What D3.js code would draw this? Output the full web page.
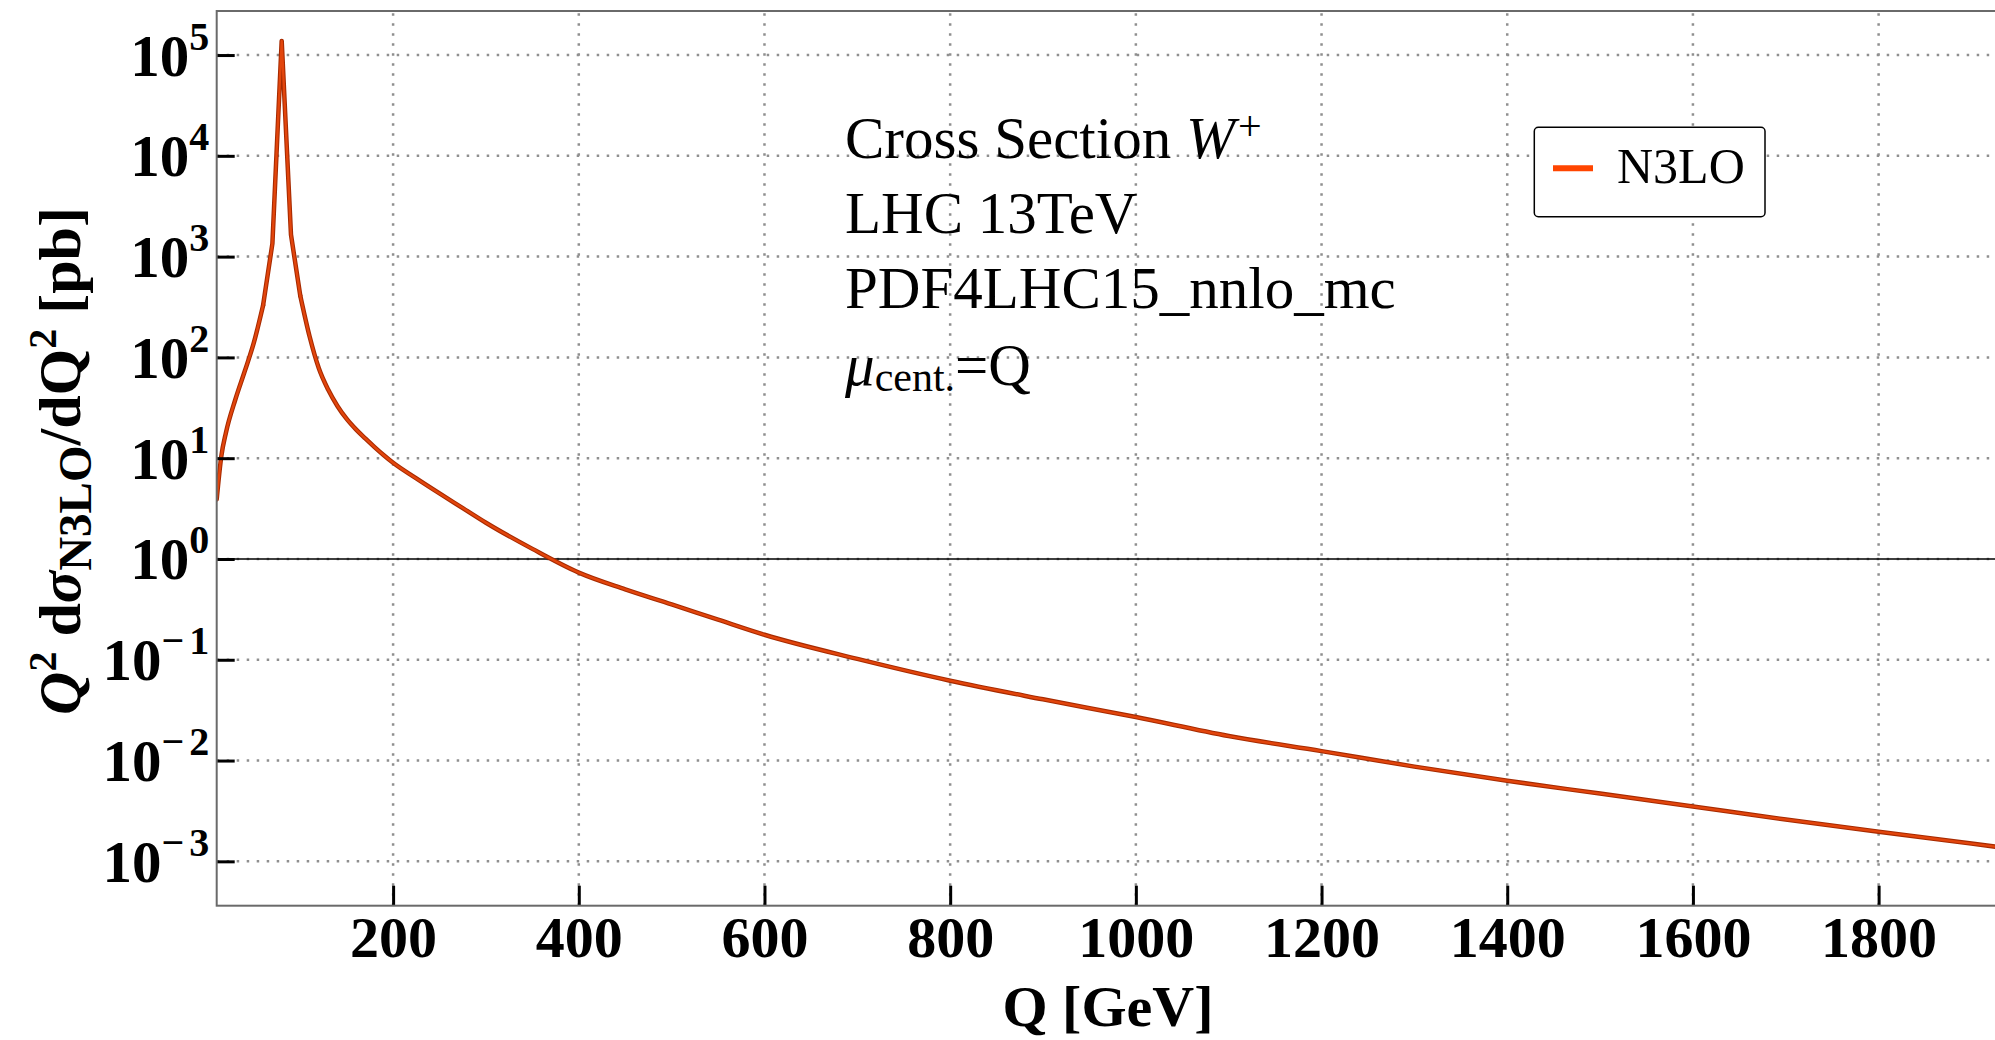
<!DOCTYPE html>
<html>
<head>
<meta charset="utf-8">
<script src="https://cdn.jsdelivr.net/npm/d3@7"></script>
<style>
  body { margin: 0; background: #fff; }
  svg { display: block; }
</style>
</head>
<body>
<div id="chart"></div>
<script>
// data: Q in GeV, Q^2 dsigma/dQ^2 in pb (N3LO, W+)
var qGeV = [10, 15, 20, 30, 40, 50, 60, 70, 80, 90,
  100, 110, 120, 130, 140, 150, 160, 170, 180, 190, 200,
  225, 250, 275, 300, 350, 400, 450, 500, 550, 600,
  700, 800, 900, 1000, 1100, 1200, 1300, 1400, 1500, 1600, 1700, 1800, 1900, 2000];
var n3loValues = [3.9, 10.5, 18, 38, 72, 140, 330, 1350, 138000, 1650,
  410, 162, 78, 48, 33, 24.5, 19.3, 15.7, 12.9, 10.7, 9.0,
  6.3, 4.47, 3.2, 2.29, 1.26, 0.733, 0.50, 0.355, 0.25, 0.177,
  0.102, 0.062, 0.0405, 0.027, 0.0175, 0.0124, 0.0087, 0.0063, 0.0047, 0.0035, 0.0026, 0.00197, 0.0015, 0.00114];

// tick values
var xTicks = [200, 400, 600, 800, 1000, 1200, 1400, 1600, 1800];
var yTickExps = [-3, -2, -1, 0, 1, 2, 3, 4, 5];

// axis ranges
var xDomain = [10, 2000];
var yDomain = [3.63e-4, 2.735e5];

// the peak is sampled coarsely and drawn with straight segments
var peakRange = [60, 100];

// texts
var legendLabel = "N3LO";
var infoTitle = "Cross Section ";
var infoBoson = "W";
var infoCharge = "+";
var infoCollider = "LHC 13TeV";
var infoPdf = "PDF4LHC15_nnlo_mc";
var infoScale = "=Q";
var xTitle = "Q [GeV]";

var serif = "'Liberation Serif', 'Times New Roman', serif";
var curveColor = "#e2450c";

var svgWidth = 1995;
var svgHeight = 1040;

// plot frame (right side runs past the picture edge)
var plot = {left: 216.7, top: 11, bottom: 905.7, right: 2064.3};

var svg = d3.select("#chart")
  .append("svg")
  .attr("width", svgWidth)
  .attr("height", svgHeight);

var xScale = d3.scaleLinear().domain(xDomain).range([plot.left, plot.right]);
var yScale = d3.scaleLog().domain(yDomain).range([plot.bottom, plot.top]);

var yTickVals = yTickExps.map(e => Math.pow(10, e));

svg.append("clipPath").attr("id", "plotclip")
  .append("rect")
  .attr("x", plot.left)
  .attr("y", plot.top)
  .attr("width", plot.right - plot.left)
  .attr("height", plot.bottom - plot.top);

// dotted grid
var grid = svg.append("g")
  .attr("stroke", "#8f8f8f")
  .attr("stroke-width", 2.5)
  .attr("stroke-dasharray", "2.5,7.5");

grid.selectAll("line.v")
  .data(xTicks)
  .enter()
  .append("line")
  .attr("class", "v")
  .attr("x1", d => xScale(d))
  .attr("x2", d => xScale(d))
  .attr("y1", plot.bottom)
  .attr("y2", plot.top);

grid.selectAll("line.h")
  .data(yTickVals)
  .enter()
  .append("line")
  .attr("class", "h")
  .attr("x1", plot.left)
  .attr("x2", plot.right)
  .attr("y1", d => yScale(d))
  .attr("y2", d => yScale(d));

// axis line at y = 1
svg.append("line")
  .attr("x1", plot.left)
  .attr("x2", plot.right)
  .attr("y1", yScale(1))
  .attr("y2", yScale(1))
  .attr("stroke", "#000")
  .attr("stroke-width", 1.3);

// the curve: smooth below and above the peak, straight segments across it
var points = qGeV.map((q, i) => ({q: q, v: n3loValues[i]}));
var segments = [
  {pts: points.filter(d => d.q <= peakRange[0]), curve: d3.curveMonotoneX},
  {pts: points.filter(d => d.q >= peakRange[0] && d.q <= peakRange[1]), curve: d3.curveLinear},
  {pts: points.filter(d => d.q >= peakRange[1]), curve: d3.curveMonotoneX}
];

var curveGroup = svg.append("g").attr("clip-path", "url(#plotclip)");
[["#a62a00", 4.5], [curveColor, 2.4]].forEach(function(style) {
  segments.forEach(function(seg) {
    var line = d3.line()
      .curve(seg.curve)
      .x(d => xScale(d.q))
      .y(d => yScale(d.v));
    curveGroup.append("path")
      .datum(seg.pts)
      .attr("d", line)
      .attr("fill", "none")
      .attr("stroke", style[0])
      .attr("stroke-width", style[1])
      .attr("stroke-linejoin", "round")
      .attr("stroke-linecap", "round");
  });
});

// x axis, ticks pointing into the frame
var xAxis = svg.append("g")
  .attr("transform", `translate(0, ${plot.bottom})`)
  .call(d3.axisBottom(xScale).tickValues(xTicks).tickSize(-20).tickPadding(10.5).tickFormat(d3.format("d")));
xAxis.select(".domain").remove();
xAxis.selectAll(".tick line").attr("stroke", "#000").attr("stroke-width", 3);
xAxis.selectAll(".tick text")
  .attr("font-family", serif)
  .attr("font-size", 58)
  .attr("font-weight", "bold")
  .attr("fill", "#000");

// y axis with 10^n labels
var yAxis = svg.append("g")
  .attr("transform", `translate(${plot.left}, 0)`)
  .call(d3.axisLeft(yScale).tickValues(yTickVals).tickSize(-18).tickFormat(""));
yAxis.select(".domain").remove();
yAxis.selectAll(".tick line").attr("stroke", "#000").attr("stroke-width", 3);
yAxis.selectAll(".tick text").remove();
yAxis.selectAll(".tick")
  .append("text")
  .attr("x", -7.5)
  .attr("y", 20)
  .attr("text-anchor", "end")
  .attr("font-family", serif)
  .attr("font-size", 59)
  .attr("font-weight", "bold")
  .attr("fill", "#000")
  .each(function(d) {
    var e = Math.round(Math.log10(d));
    var t = d3.select(this);
    t.append("tspan").text("10");
    if (e < 0) {
      t.append("tspan").attr("dy", -26).attr("font-size", 40).text("\u2212");
      t.append("tspan").attr("dx", 5).attr("font-size", 40).text(String(-e));
    } else {
      t.append("tspan").attr("dy", -26).attr("font-size", 40).text(String(e));
    }
  });

// frame
svg.append("rect")
  .attr("x", plot.left)
  .attr("y", plot.top)
  .attr("width", plot.right - plot.left)
  .attr("height", plot.bottom - plot.top)
  .attr("fill", "none")
  .attr("stroke", "#6a6a6a")
  .attr("stroke-width", 2);

// axis titles
svg.append("text")
  .attr("x", 1108)
  .attr("y", 1026)
  .attr("text-anchor", "middle")
  .attr("font-family", serif)
  .attr("font-size", 58)
  .attr("font-weight", "bold")
  .text(xTitle);

var yTitle = svg.append("text")
  .attr("transform", "translate(80, 461) rotate(-90)")
  .attr("text-anchor", "middle")
  .attr("font-family", serif)
  .attr("font-size", 60)
  .attr("font-weight", "bold");
yTitle.append("tspan").attr("font-style", "italic").text("Q");
yTitle.append("tspan").attr("dy", -24).attr("font-size", 40).text("2");
yTitle.append("tspan").attr("dy", 24).text(" d");
yTitle.append("tspan").attr("font-style", "italic").text("\u03c3");
yTitle.append("tspan").attr("dy", 11).attr("font-size", 47).text("N3LO");
yTitle.append("tspan").attr("dy", -11).text("/dQ");
yTitle.append("tspan").attr("dy", -24).attr("font-size", 40).text("2");
yTitle.append("tspan").attr("dy", 24).text(" [pb]");

// info block
var info = svg.append("g")
  .attr("font-family", serif)
  .attr("font-size", 59)
  .attr("fill", "#000");

var l1 = info.append("text").attr("x", 845).attr("y", 158);
l1.append("tspan").text(infoTitle);
l1.append("tspan").attr("font-style", "italic").text(infoBoson);
l1.append("tspan").attr("dx", 3).attr("dy", -18).attr("font-size", 42).text(infoCharge);

info.append("text").attr("x", 845).attr("y", 233).text(infoCollider);
info.append("text").attr("x", 845).attr("y", 308).text(infoPdf);

var l4 = info.append("text").attr("x", 845).attr("y", 385);
l4.append("tspan").attr("font-style", "italic").text("\u03bc");
l4.append("tspan").attr("dy", 6).attr("font-size", 42).text("cent.");
l4.append("tspan").attr("dy", -6).text(infoScale);

// legend
var legend = svg.append("g");
legend.append("rect")
  .attr("x", 1534.3)
  .attr("y", 127.3)
  .attr("width", 230.7)
  .attr("height", 89.4)
  .attr("rx", 4)
  .attr("fill", "#fff")
  .attr("stroke", "#000")
  .attr("stroke-width", 1.5);
legend.append("line")
  .attr("x1", 1553)
  .attr("x2", 1593)
  .attr("y1", 168.3)
  .attr("y2", 168.3)
  .attr("stroke", "#ff4500")
  .attr("stroke-width", 6);
legend.append("text")
  .attr("x", 1617)
  .attr("y", 183)
  .attr("font-family", serif)
  .attr("font-size", 50)
  .text(legendLabel);
</script>
</body>
</html>
